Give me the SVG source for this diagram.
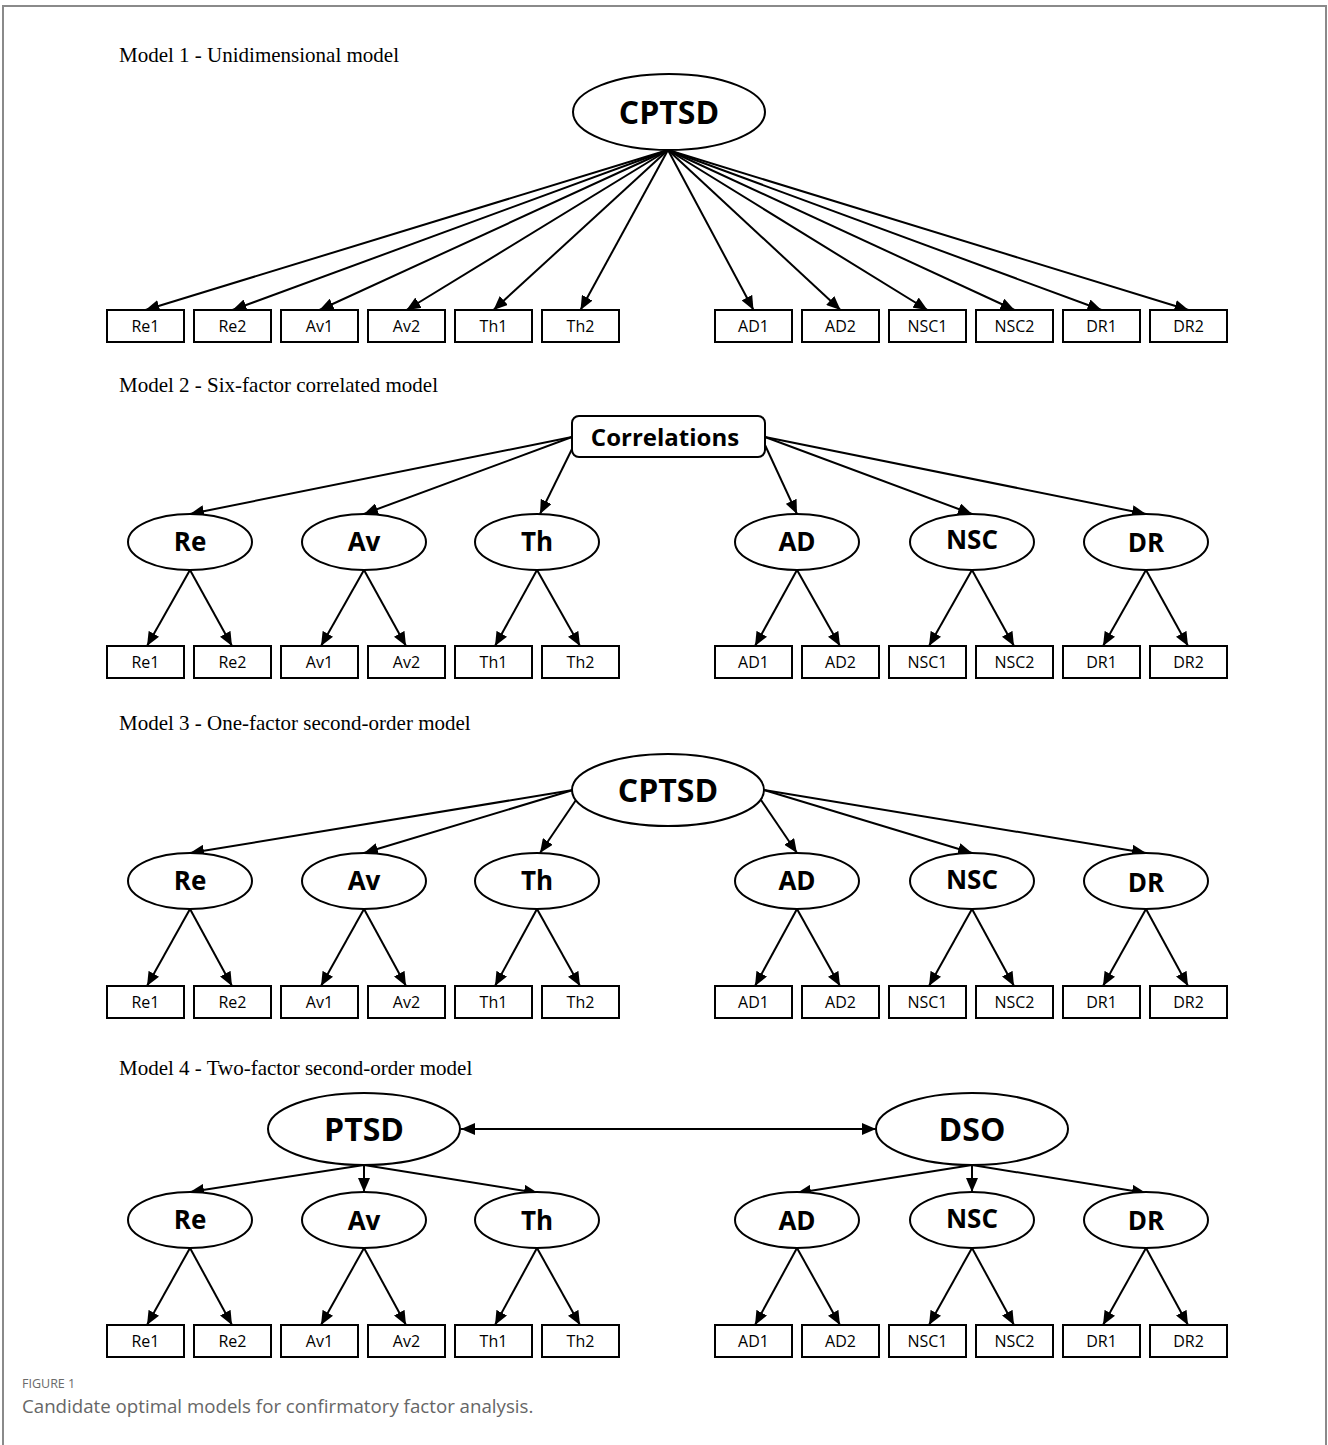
<svg xmlns="http://www.w3.org/2000/svg" width="1328" height="1445" viewBox="0 0 1328 1445">
<defs>
<marker id="arr" markerUnits="userSpaceOnUse" markerWidth="15" markerHeight="12" refX="14" refY="6" orient="auto">
<path d="M0,0 L14,6 L0,12 z" fill="#000"/>
</marker>
<marker id="arrs" markerUnits="userSpaceOnUse" markerWidth="15" markerHeight="12" refX="0" refY="6" orient="auto">
<path d="M14,0 L0,6 L14,12 z" fill="#000"/>
</marker>
<style>
.frame{fill:#fff;stroke:#8a8a8a;stroke-width:2}
.box{fill:#fff;stroke:#000;stroke-width:2}
.ell{fill:#fff;stroke:#000;stroke-width:2}
.btxt{font-family:"Open Sans","Liberation Sans",sans-serif;font-size:16px;text-anchor:middle;fill:#000}
.etxt{font-family:"Open Sans","Liberation Sans",sans-serif;font-size:26px;font-weight:bold;text-anchor:middle;fill:#000}
.big{font-family:"Open Sans","Liberation Sans",sans-serif;font-size:32px;font-weight:bold;text-anchor:middle;fill:#000}
.head{font-family:"Liberation Serif",serif;font-size:21px;fill:#000}
.cap1{font-family:"Open Sans","Lato",sans-serif;font-size:12.5px;fill:#6a6a6a}
.cap2{font-family:"Open Sans","Lato",sans-serif;font-size:18.7px;fill:#666}
.ln{stroke:#000;stroke-width:2;fill:none;marker-end:url(#arr)}
</style>
</defs>
<rect class="frame" x="3" y="6" width="1323" height="1460"/>
<g id="headings">
<text class="head" x="119" y="62">Model 1 - Unidimensional model</text>
<text class="head" x="119" y="392">Model 2 - Six-factor correlated model</text>
<text class="head" x="119" y="730">Model 3 - One-factor second-order model</text>
<text class="head" x="119" y="1075">Model 4 - Two-factor second-order model</text>
</g>
<g id="connectors">
<!-- Model 1 -->
<line class="ln" x1="668" y1="150" x2="145.5" y2="310"/>
<line class="ln" x1="668" y1="150" x2="232.5" y2="310"/>
<line class="ln" x1="668" y1="150" x2="319.5" y2="310"/>
<line class="ln" x1="668" y1="150" x2="406.5" y2="310"/>
<line class="ln" x1="668" y1="150" x2="493.5" y2="310"/>
<line class="ln" x1="668" y1="150" x2="580.5" y2="310"/>
<line class="ln" x1="668" y1="150" x2="753.5" y2="310"/>
<line class="ln" x1="668" y1="150" x2="840.5" y2="310"/>
<line class="ln" x1="668" y1="150" x2="927.5" y2="310"/>
<line class="ln" x1="668" y1="150" x2="1014.5" y2="310"/>
<line class="ln" x1="668" y1="150" x2="1101.5" y2="310"/>
<line class="ln" x1="668" y1="150" x2="1188.5" y2="310"/>
<!-- Model 2 top -->
<line class="ln" x1="572" y1="437" x2="190" y2="514"/>
<line class="ln" x1="572" y1="437" x2="364" y2="514"/>
<line class="ln" x1="574" y1="445" x2="540" y2="514"/>
<line class="ln" x1="765" y1="445" x2="797" y2="514"/>
<line class="ln" x1="765" y1="437" x2="972" y2="514"/>
<line class="ln" x1="765" y1="437" x2="1146" y2="514"/>
<!-- Model 3 top -->
<line class="ln" x1="573" y1="790" x2="190" y2="853"/>
<line class="ln" x1="573" y1="790" x2="364" y2="853"/>
<line class="ln" x1="576" y1="800" x2="540" y2="853"/>
<line class="ln" x1="761" y1="800" x2="797" y2="853"/>
<line class="ln" x1="764" y1="790" x2="972" y2="853"/>
<line class="ln" x1="764" y1="790" x2="1146" y2="853"/>
<!-- Model 4 top -->
<line class="ln" x1="461" y1="1129" x2="876" y2="1129" marker-start="url(#arrs)"/>
<line class="ln" x1="364" y1="1165" x2="190" y2="1192"/>
<line class="ln" x1="364" y1="1165" x2="364" y2="1192"/>
<line class="ln" x1="364" y1="1165" x2="538" y2="1193"/>
<line class="ln" x1="972" y1="1165" x2="797" y2="1193"/>
<line class="ln" x1="972" y1="1165" x2="972" y2="1192"/>
<line class="ln" x1="972" y1="1165" x2="1146" y2="1193"/>
<!-- Models 2-4 factor-to-indicator -->
<g id="m2-ind">
<line class="ln" x1="190" y1="570" x2="147" y2="646"/><line class="ln" x1="190" y1="570" x2="232" y2="646"/>
<line class="ln" x1="364" y1="570" x2="321" y2="646"/><line class="ln" x1="364" y1="570" x2="406" y2="646"/>
<line class="ln" x1="537" y1="570" x2="495" y2="646"/><line class="ln" x1="537" y1="570" x2="580" y2="646"/>
<line class="ln" x1="797" y1="570" x2="755" y2="646"/><line class="ln" x1="797" y1="570" x2="840" y2="646"/>
<line class="ln" x1="972" y1="570" x2="929" y2="646"/><line class="ln" x1="972" y1="570" x2="1014" y2="646"/>
<line class="ln" x1="1146" y1="570" x2="1103" y2="646"/><line class="ln" x1="1146" y1="570" x2="1188" y2="646"/>
</g>
<g id="m3-ind">
<line class="ln" x1="190" y1="909" x2="147" y2="986"/><line class="ln" x1="190" y1="909" x2="232" y2="986"/>
<line class="ln" x1="364" y1="909" x2="321" y2="986"/><line class="ln" x1="364" y1="909" x2="406" y2="986"/>
<line class="ln" x1="537" y1="909" x2="495" y2="986"/><line class="ln" x1="537" y1="909" x2="580" y2="986"/>
<line class="ln" x1="797" y1="909" x2="755" y2="986"/><line class="ln" x1="797" y1="909" x2="840" y2="986"/>
<line class="ln" x1="972" y1="909" x2="929" y2="986"/><line class="ln" x1="972" y1="909" x2="1014" y2="986"/>
<line class="ln" x1="1146" y1="909" x2="1103" y2="986"/><line class="ln" x1="1146" y1="909" x2="1188" y2="986"/>
</g>
<g id="m4-ind">
<line class="ln" x1="190" y1="1248" x2="147" y2="1325"/><line class="ln" x1="190" y1="1248" x2="232" y2="1325"/>
<line class="ln" x1="364" y1="1248" x2="321" y2="1325"/><line class="ln" x1="364" y1="1248" x2="406" y2="1325"/>
<line class="ln" x1="537" y1="1248" x2="495" y2="1325"/><line class="ln" x1="537" y1="1248" x2="580" y2="1325"/>
<line class="ln" x1="797" y1="1248" x2="755" y2="1325"/><line class="ln" x1="797" y1="1248" x2="840" y2="1325"/>
<line class="ln" x1="972" y1="1248" x2="929" y2="1325"/><line class="ln" x1="972" y1="1248" x2="1014" y2="1325"/>
<line class="ln" x1="1146" y1="1248" x2="1103" y2="1325"/><line class="ln" x1="1146" y1="1248" x2="1188" y2="1325"/>
</g>
</g>
<!-- Model 1 nodes -->
<g id="m1-CPTSD"><ellipse class="ell" cx="669" cy="112" rx="96" ry="38"/><text class="big" x="669" y="124">CPTSD</text></g>
<g id="m1-boxes">
<g id="m1-Re1"><rect class="box" x="107" y="310" width="77" height="32"/><text class="btxt" x="145.5" y="332">Re1</text></g>
<g id="m1-Re2"><rect class="box" x="194" y="310" width="77" height="32"/><text class="btxt" x="232.5" y="332">Re2</text></g>
<g id="m1-Av1"><rect class="box" x="281" y="310" width="77" height="32"/><text class="btxt" x="319.5" y="332">Av1</text></g>
<g id="m1-Av2"><rect class="box" x="368" y="310" width="77" height="32"/><text class="btxt" x="406.5" y="332">Av2</text></g>
<g id="m1-Th1"><rect class="box" x="455" y="310" width="77" height="32"/><text class="btxt" x="493.5" y="332">Th1</text></g>
<g id="m1-Th2"><rect class="box" x="542" y="310" width="77" height="32"/><text class="btxt" x="580.5" y="332">Th2</text></g>
<g id="m1-AD1"><rect class="box" x="715" y="310" width="77" height="32"/><text class="btxt" x="753.5" y="332">AD1</text></g>
<g id="m1-AD2"><rect class="box" x="802" y="310" width="77" height="32"/><text class="btxt" x="840.5" y="332">AD2</text></g>
<g id="m1-NSC1"><rect class="box" x="889" y="310" width="77" height="32"/><text class="btxt" x="927.5" y="332">NSC1</text></g>
<g id="m1-NSC2"><rect class="box" x="976" y="310" width="77" height="32"/><text class="btxt" x="1014.5" y="332">NSC2</text></g>
<g id="m1-DR1"><rect class="box" x="1063" y="310" width="77" height="32"/><text class="btxt" x="1101.5" y="332">DR1</text></g>
<g id="m1-DR2"><rect class="box" x="1150" y="310" width="77" height="32"/><text class="btxt" x="1188.5" y="332">DR2</text></g>
</g>
<!-- Model 2 nodes -->
<g id="m2-Correlations"><rect class="box" x="572" y="416" width="193" height="41" rx="7"/><text class="etxt" x="665" y="446" style="font-size:24px">Correlations</text></g>
<g id="m2-factors">
<g id="m2-Re"><ellipse class="ell" cx="190" cy="542" rx="62" ry="28"/><text class="etxt" x="190" y="551">Re</text></g>
<g id="m2-Av"><ellipse class="ell" cx="364" cy="542" rx="62" ry="28"/><text class="etxt" x="364" y="551">Av</text></g>
<g id="m2-Th"><ellipse class="ell" cx="537" cy="542" rx="62" ry="28"/><text class="etxt" x="537" y="551">Th</text></g>
<g id="m2-AD"><ellipse class="ell" cx="797" cy="542" rx="62" ry="28"/><text class="etxt" x="797" y="551">AD</text></g>
<g id="m2-NSC"><ellipse class="ell" cx="972" cy="542" rx="62" ry="28"/><text class="etxt" x="972" y="549">NSC</text></g>
<g id="m2-DR"><ellipse class="ell" cx="1146" cy="542" rx="62" ry="28"/><text class="etxt" x="1146" y="552">DR</text></g>
</g>
<g id="m2-boxes">
<g id="m2-Re1"><rect class="box" x="107" y="646" width="77" height="32"/><text class="btxt" x="145.5" y="668">Re1</text></g>
<g id="m2-Re2"><rect class="box" x="194" y="646" width="77" height="32"/><text class="btxt" x="232.5" y="668">Re2</text></g>
<g id="m2-Av1"><rect class="box" x="281" y="646" width="77" height="32"/><text class="btxt" x="319.5" y="668">Av1</text></g>
<g id="m2-Av2"><rect class="box" x="368" y="646" width="77" height="32"/><text class="btxt" x="406.5" y="668">Av2</text></g>
<g id="m2-Th1"><rect class="box" x="455" y="646" width="77" height="32"/><text class="btxt" x="493.5" y="668">Th1</text></g>
<g id="m2-Th2"><rect class="box" x="542" y="646" width="77" height="32"/><text class="btxt" x="580.5" y="668">Th2</text></g>
<g id="m2-AD1"><rect class="box" x="715" y="646" width="77" height="32"/><text class="btxt" x="753.5" y="668">AD1</text></g>
<g id="m2-AD2"><rect class="box" x="802" y="646" width="77" height="32"/><text class="btxt" x="840.5" y="668">AD2</text></g>
<g id="m2-NSC1"><rect class="box" x="889" y="646" width="77" height="32"/><text class="btxt" x="927.5" y="668">NSC1</text></g>
<g id="m2-NSC2"><rect class="box" x="976" y="646" width="77" height="32"/><text class="btxt" x="1014.5" y="668">NSC2</text></g>
<g id="m2-DR1"><rect class="box" x="1063" y="646" width="77" height="32"/><text class="btxt" x="1101.5" y="668">DR1</text></g>
<g id="m2-DR2"><rect class="box" x="1150" y="646" width="77" height="32"/><text class="btxt" x="1188.5" y="668">DR2</text></g>
</g>
<!-- Model 3 nodes -->
<g id="m3-CPTSD"><ellipse class="ell" cx="668" cy="790" rx="96" ry="36"/><text class="big" x="668" y="802">CPTSD</text></g>
<g id="m3-factors">
<g id="m3-Re"><ellipse class="ell" cx="190" cy="881" rx="62" ry="28"/><text class="etxt" x="190" y="890">Re</text></g>
<g id="m3-Av"><ellipse class="ell" cx="364" cy="881" rx="62" ry="28"/><text class="etxt" x="364" y="890">Av</text></g>
<g id="m3-Th"><ellipse class="ell" cx="537" cy="881" rx="62" ry="28"/><text class="etxt" x="537" y="890">Th</text></g>
<g id="m3-AD"><ellipse class="ell" cx="797" cy="881" rx="62" ry="28"/><text class="etxt" x="797" y="890">AD</text></g>
<g id="m3-NSC"><ellipse class="ell" cx="972" cy="881" rx="62" ry="28"/><text class="etxt" x="972" y="889">NSC</text></g>
<g id="m3-DR"><ellipse class="ell" cx="1146" cy="881" rx="62" ry="28"/><text class="etxt" x="1146" y="892">DR</text></g>
</g>
<g id="m3-boxes">
<g id="m3-Re1"><rect class="box" x="107" y="986" width="77" height="32"/><text class="btxt" x="145.5" y="1008">Re1</text></g>
<g id="m3-Re2"><rect class="box" x="194" y="986" width="77" height="32"/><text class="btxt" x="232.5" y="1008">Re2</text></g>
<g id="m3-Av1"><rect class="box" x="281" y="986" width="77" height="32"/><text class="btxt" x="319.5" y="1008">Av1</text></g>
<g id="m3-Av2"><rect class="box" x="368" y="986" width="77" height="32"/><text class="btxt" x="406.5" y="1008">Av2</text></g>
<g id="m3-Th1"><rect class="box" x="455" y="986" width="77" height="32"/><text class="btxt" x="493.5" y="1008">Th1</text></g>
<g id="m3-Th2"><rect class="box" x="542" y="986" width="77" height="32"/><text class="btxt" x="580.5" y="1008">Th2</text></g>
<g id="m3-AD1"><rect class="box" x="715" y="986" width="77" height="32"/><text class="btxt" x="753.5" y="1008">AD1</text></g>
<g id="m3-AD2"><rect class="box" x="802" y="986" width="77" height="32"/><text class="btxt" x="840.5" y="1008">AD2</text></g>
<g id="m3-NSC1"><rect class="box" x="889" y="986" width="77" height="32"/><text class="btxt" x="927.5" y="1008">NSC1</text></g>
<g id="m3-NSC2"><rect class="box" x="976" y="986" width="77" height="32"/><text class="btxt" x="1014.5" y="1008">NSC2</text></g>
<g id="m3-DR1"><rect class="box" x="1063" y="986" width="77" height="32"/><text class="btxt" x="1101.5" y="1008">DR1</text></g>
<g id="m3-DR2"><rect class="box" x="1150" y="986" width="77" height="32"/><text class="btxt" x="1188.5" y="1008">DR2</text></g>
</g>
<!-- Model 4 nodes -->
<g id="m4-PTSD"><ellipse class="ell" cx="364" cy="1129" rx="96" ry="36"/><text class="big" x="364" y="1141">PTSD</text></g>
<g id="m4-DSO"><ellipse class="ell" cx="972" cy="1129" rx="96" ry="36"/><text class="big" x="972" y="1141">DSO</text></g>
<g id="m4-factors">
<g id="m4-Re"><ellipse class="ell" cx="190" cy="1220" rx="62" ry="28"/><text class="etxt" x="190" y="1229">Re</text></g>
<g id="m4-Av"><ellipse class="ell" cx="364" cy="1220" rx="62" ry="28"/><text class="etxt" x="364" y="1230">Av</text></g>
<g id="m4-Th"><ellipse class="ell" cx="537" cy="1220" rx="62" ry="28"/><text class="etxt" x="537" y="1230">Th</text></g>
<g id="m4-AD"><ellipse class="ell" cx="797" cy="1220" rx="62" ry="28"/><text class="etxt" x="797" y="1230">AD</text></g>
<g id="m4-NSC"><ellipse class="ell" cx="972" cy="1220" rx="62" ry="28"/><text class="etxt" x="972" y="1228">NSC</text></g>
<g id="m4-DR"><ellipse class="ell" cx="1146" cy="1220" rx="62" ry="28"/><text class="etxt" x="1146" y="1230">DR</text></g>
</g>
<g id="m4-boxes">
<g id="m4-Re1"><rect class="box" x="107" y="1325" width="77" height="32"/><text class="btxt" x="145.5" y="1347">Re1</text></g>
<g id="m4-Re2"><rect class="box" x="194" y="1325" width="77" height="32"/><text class="btxt" x="232.5" y="1347">Re2</text></g>
<g id="m4-Av1"><rect class="box" x="281" y="1325" width="77" height="32"/><text class="btxt" x="319.5" y="1347">Av1</text></g>
<g id="m4-Av2"><rect class="box" x="368" y="1325" width="77" height="32"/><text class="btxt" x="406.5" y="1347">Av2</text></g>
<g id="m4-Th1"><rect class="box" x="455" y="1325" width="77" height="32"/><text class="btxt" x="493.5" y="1347">Th1</text></g>
<g id="m4-Th2"><rect class="box" x="542" y="1325" width="77" height="32"/><text class="btxt" x="580.5" y="1347">Th2</text></g>
<g id="m4-AD1"><rect class="box" x="715" y="1325" width="77" height="32"/><text class="btxt" x="753.5" y="1347">AD1</text></g>
<g id="m4-AD2"><rect class="box" x="802" y="1325" width="77" height="32"/><text class="btxt" x="840.5" y="1347">AD2</text></g>
<g id="m4-NSC1"><rect class="box" x="889" y="1325" width="77" height="32"/><text class="btxt" x="927.5" y="1347">NSC1</text></g>
<g id="m4-NSC2"><rect class="box" x="976" y="1325" width="77" height="32"/><text class="btxt" x="1014.5" y="1347">NSC2</text></g>
<g id="m4-DR1"><rect class="box" x="1063" y="1325" width="77" height="32"/><text class="btxt" x="1101.5" y="1347">DR1</text></g>
<g id="m4-DR2"><rect class="box" x="1150" y="1325" width="77" height="32"/><text class="btxt" x="1188.5" y="1347">DR2</text></g>
</g>
<g id="caption">
<text class="cap1" x="22" y="1388">FIGURE 1</text>
<text class="cap2" x="22" y="1413">Candidate optimal models for confirmatory factor analysis.</text>
</g>
</svg>
